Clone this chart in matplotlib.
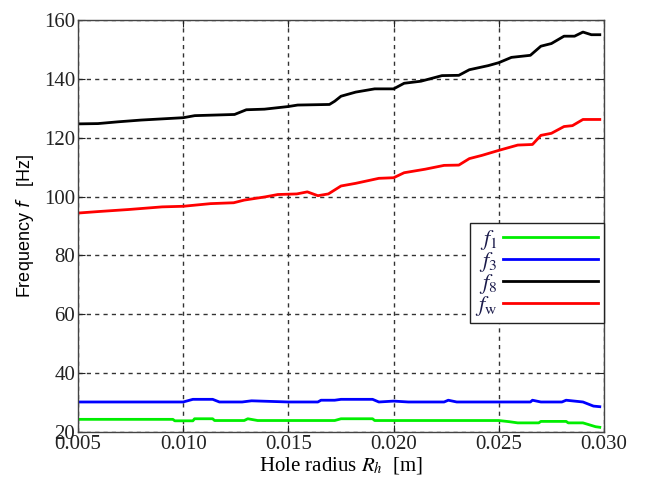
import matplotlib
matplotlib.use("Agg")
import matplotlib.pyplot as plt

plt.rcParams['mathtext.fontset'] = 'stix'
plt.rcParams['font.family'] = ['Liberation Serif', 'DejaVu Serif']

# ---- data ----
x_f8 = [0.0050, 0.00595, 0.0069, 0.0080, 0.0090, 0.0100, 0.01055, 0.01244, 0.0130, 0.01386,
        0.0150, 0.01544, 0.01695, 0.0172, 0.0175, 0.0182, 0.0191, 0.0200, 0.0205, 0.0213,
        0.0223, 0.0231, 0.0236, 0.0245, 0.0250, 0.0256, 0.0265, 0.0270, 0.0275, 0.0281,
        0.0286, 0.0290, 0.0294, 0.0298]
f8 = [124.7, 124.8, 125.4, 126.0, 126.4, 126.8, 127.5, 127.9, 129.5, 129.7,
      130.6, 131.1, 131.3, 132.4, 134.1, 135.5, 136.6, 136.6, 138.5, 139.2,
      141.1, 141.2, 143.1, 144.5, 145.5, 147.3, 148.0, 151.1, 152.0, 154.5,
      154.5, 155.9, 155.0, 155.0]

x_fw = [0.0050, 0.00595, 0.0074, 0.0090, 0.0100, 0.0113, 0.0124, 0.0129, 0.0139, 0.0145,
        0.0154, 0.0159, 0.0164, 0.0169, 0.0175, 0.0182, 0.0193, 0.0200, 0.0205, 0.0215,
        0.0224, 0.0231, 0.0236, 0.0242, 0.0250, 0.0259, 0.0266, 0.0270, 0.0275, 0.0281,
        0.0285, 0.0290, 0.0298]
fw = [94.4, 94.9, 95.6, 96.5, 96.7, 97.6, 97.9, 98.8, 99.9, 100.7,
      100.9, 101.6, 100.3, 100.9, 103.6, 104.5, 106.2, 106.4, 108.1, 109.3,
      110.6, 110.7, 112.9, 114.0, 115.7, 117.5, 117.7, 120.8, 121.5, 123.8,
      124.1, 126.2, 126.2]

x_f3 = [0.0050, 0.0100, 0.01046, 0.0114, 0.01172, 0.0128, 0.01325, 0.0150, 0.0164, 0.01655,
        0.0172, 0.0175, 0.0190, 0.0193, 0.0200, 0.0207, 0.0224, 0.0226, 0.0230, 0.0265,
        0.0266, 0.0270, 0.0280, 0.0282, 0.0290, 0.0295, 0.0298]
f3 = [30.2, 30.2, 31.1, 31.1, 30.2, 30.2, 30.6, 30.2, 30.2, 30.8,
      30.8, 31.1, 31.1, 30.2, 30.5, 30.2, 30.2, 30.8, 30.2, 30.2,
      30.8, 30.2, 30.2, 30.8, 30.2, 28.8, 28.6]

x_f1 = [0.0050, 0.00951, 0.0096, 0.01046, 0.01054, 0.0114, 0.01149, 0.0129, 0.01307, 0.01354,
        0.0150, 0.0172, 0.0175, 0.0190, 0.0191, 0.0250, 0.0255, 0.0259, 0.0269, 0.0270,
        0.0282, 0.0283, 0.0290, 0.0296, 0.0298]
f1 = [24.3, 24.3, 23.8, 23.8, 24.5, 24.5, 23.9, 23.9, 24.5, 23.9,
      23.9, 23.9, 24.5, 24.5, 23.9, 23.9, 23.5, 23.1, 23.1, 23.6,
      23.6, 23.1, 23.1, 21.8, 21.6]

x_ticks = [0.005, 0.010, 0.015, 0.020, 0.025, 0.030]
x_tick_labels = ['0.005', '0.010', '0.015', '0.020', '0.025', '0.030']
y_ticks = [20, 40, 60, 80, 100, 120, 140, 160]

fig = plt.figure(figsize=(6.56, 4.83), dpi=100)
ax = fig.add_axes([78/656, 1-432/483, (604-78)/656, (432-20)/483])

lw = 2.0
ax.plot(x_f1, f1, color='#00ee00', lw=lw, label=r'$f_1$')
ax.plot(x_f3, f3, color='#0000ff', lw=lw, label=r'$f_3$')
ax.plot(x_f8, f8, color='#000000', lw=lw, label=r'$f_8$')
ax.plot(x_fw, fw, color='#ff0000', lw=lw, label=r'$f_{\mathrm{w}}$')

ax.set_xlim(0.005, 0.030)
ax.set_ylim(20, 160)
ax.set_xticks(x_ticks)
ax.set_xticklabels(x_tick_labels)
ax.set_yticks(y_ticks)
ax.tick_params(direction='in', top=True, right=True, labelsize=15, length=5,
               colors='#222222', pad=2)
ax.grid(True, color='#333333', linestyle=(0, (3, 3)), linewidth=1.0)
for s in ax.spines.values():
    s.set_color('#444444')
    s.set_linewidth(1.0)

ax.set_xlabel(r'Hole radius $R_h$  [m]', fontsize=15, labelpad=1)
ax.set_ylabel(r'Frequency $f$   [Hz]', fontsize=13, family=['Liberation Sans', 'DejaVu Sans'],
              math_fontfamily='dejavusans', labelpad=6)

leg = ax.legend(loc='upper right', bbox_to_anchor=(1.0, 0.508), markerfirst=False,
                fancybox=False, framealpha=1, edgecolor='#222222', fontsize=16,
                handlelength=4.3, labelspacing=-0.1, borderpad=0.25, handletextpad=0.25,
                borderaxespad=0.0)
leg.get_frame().set_linewidth(1.0)
for t in leg.get_texts():
    t.set_color('#1a1a4a')

fig.savefig('out.png', dpi=100)
